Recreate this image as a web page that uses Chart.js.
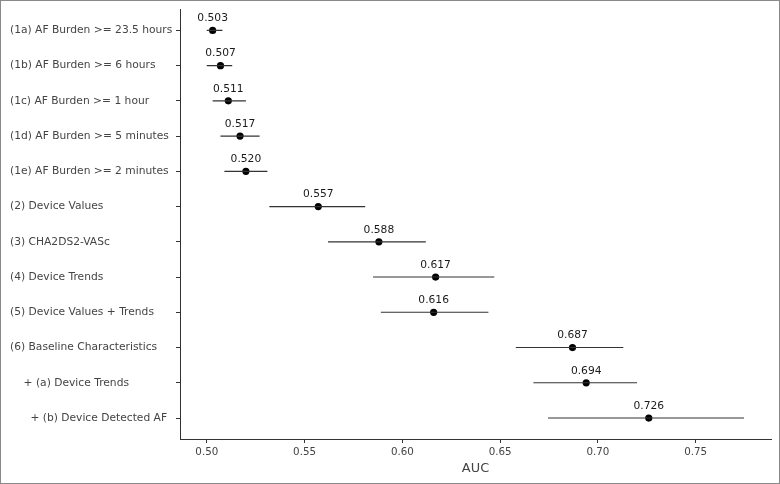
<!DOCTYPE html>
<html><head><meta charset="utf-8">
<script src="https://cdn.jsdelivr.net/npm/chart.js@4"></script>
<style>
html,body{margin:0;padding:0;background:#fff}
#wrap{position:relative;width:780px;height:484px}
#frame{position:absolute;left:0;top:0;width:780px;height:484px;box-sizing:border-box;border:1px solid #8a8a8a;pointer-events:none}
</style>
</head><body><div id="wrap"><canvas id="c" width="780" height="484"></canvas><div id="frame"></div></div>
<script>
const categories = [
  "(1a) AF Burden >= 23.5 hours",
  "(1b) AF Burden >= 6 hours",
  "(1c) AF Burden >= 1 hour",
  "(1d) AF Burden >= 5 minutes",
  "(1e) AF Burden >= 2 minutes",
  "(2) Device Values",
  "(3) CHA2DS2-VASc",
  "(4) Device Trends",
  "(5) Device Values + Trends",
  "(6) Baseline Characteristics",
  "    + (a) Device Trends",
  "      + (b) Device Detected AF"
];
const auc    = [0.503, 0.507, 0.511, 0.517, 0.520, 0.557, 0.588, 0.617, 0.616, 0.687, 0.694, 0.726];
const ciLow  = [0.500, 0.500, 0.503, 0.507, 0.509, 0.532, 0.562, 0.585, 0.589, 0.658, 0.667, 0.6745];
const ciHigh = [0.508, 0.513, 0.520, 0.527, 0.531, 0.581, 0.612, 0.647, 0.644, 0.713, 0.720, 0.7747];
const xTicks = [0.50, 0.55, 0.60, 0.65, 0.70, 0.75];

const FONT = "'DejaVu Sans', sans-serif";

const datasets = categories.map((c, i) => ({
  type: 'scatter',
  showLine: true,
  data: [{x: ciLow[i], y: i}, {x: ciHigh[i], y: i}],
  borderColor: '#333',
  borderWidth: 1.1,
  pointRadius: 0,
  fill: false
}));
datasets.push({
  type: 'scatter',
  data: auc.map((v, i) => ({x: v, y: i})),
  pointRadius: 3.6,
  pointBackgroundColor: '#000',
  pointBorderColor: '#000',
  pointBorderWidth: 0
});

const valueLabels = {
  id: 'valueLabels',
  afterDatasetsDraw(chart) {
    const ctx = chart.ctx;
    const idx = chart.data.datasets.length - 1;
    const meta = chart.getDatasetMeta(idx);
    ctx.save();
    ctx.font = "10.7px " + FONT;
    ctx.fillStyle = '#1a1a1a';
    ctx.textAlign = 'center';
    ctx.textBaseline = 'middle';
    meta.data.forEach((el, i) => {
      ctx.fillText(auc[i].toFixed(3), el.x, el.y - 12);
    });
    ctx.restore();
  }
};

new Chart(document.getElementById('c'), {
  type: 'scatter',
  data: {datasets},
  options: {
    responsive: false,
    animation: false,
    layout: {padding: {left: 10, right: 9, top: 9, bottom: 4}},
    plugins: {legend: {display: false}, tooltip: {enabled: false}},
    scales: {
      x: {
        type: 'linear',
        min: 0.4863,
        max: 0.7885,
        afterBuildTicks: (s) => { s.ticks = xTicks.map(v => ({value: v})); },
        afterFit: (s) => { s.height = 41; },
        ticks: {
          callback: (v) => Number(v).toFixed(2),
          font: {family: FONT, size: 10.3},
          color: '#444',
          padding: 3,
          maxRotation: 0
        },
        grid: {drawOnChartArea: false, drawTicks: true, tickLength: 4, color: '#333'},
        border: {display: true, color: '#333', width: 1},
        title: {display: true, text: 'AUC', font: {family: FONT, size: 12.9}, color: '#444', padding: {top: 2, bottom: 4}}
      },
      y: {
        type: 'linear',
        reverse: true,
        min: -0.595,
        max: 11.595,
        afterBuildTicks: (s) => { s.ticks = categories.map((_, i) => ({value: i})); },
        afterFit: (s) => { s.width = 170; },
        ticks: {
          callback: (v) => categories[v],
          crossAlign: 'far',
          font: {family: FONT, size: 10.7},
          color: '#444',
          autoSkip: false
        },
        grid: {drawOnChartArea: false, drawTicks: true, tickLength: 4, color: '#333'},
        border: {display: true, color: '#333', width: 1}
      }
    }
  },
  plugins: [valueLabels]
});
</script>
</body></html>
